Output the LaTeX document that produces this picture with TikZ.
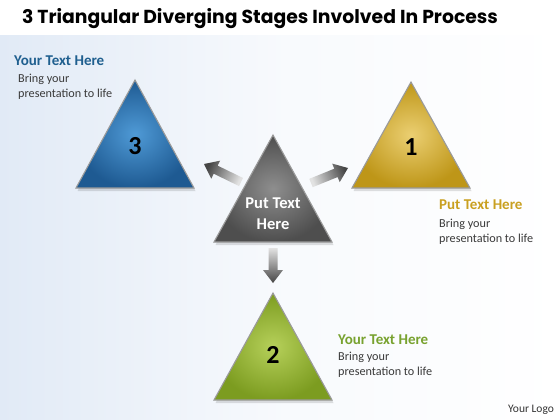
\documentclass[tikz,border=0pt]{standalone}
\usepackage{fontspec}
\setmainfont{Carlito}
\newfontfamily\titlefont{Poppins}
\usetikzlibrary{calc}
\definecolor{bgblue}{HTML}{E1EAF6}
\definecolor{headblue}{HTML}{1F5F8F}
\definecolor{headgold}{HTML}{C9A020}
\definecolor{headgreen}{HTML}{78A22F}
\definecolor{bodygray}{HTML}{3A3A3A}
\definecolor{bluein}{HTML}{4F9AD6}
\definecolor{blueout}{HTML}{1E5A92}
\definecolor{goldin}{HTML}{EBCF72}
\definecolor{goldout}{HTML}{BE9618}
\definecolor{greenin}{HTML}{B6D05A}
\definecolor{greenout}{HTML}{7C9C20}
\definecolor{grayin}{HTML}{8E8E8E}
\definecolor{grayout}{HTML}{4E4E4E}
\definecolor{rim}{HTML}{9A9A9A}
\definecolor{arrowdark}{HTML}{454545}
\definecolor{arrowlight}{HTML}{E2E2E2}
\newcommand\fanarrow[2]{%
  \coordinate (#1h) at ($(#1p)!13pt!(#1t)$);
  \shade[top color=arrowdark, bottom color=arrowlight, shading angle=#2]
    ($(#1t)!4.5pt!90:(#1p)$) -- ($(#1h)!4.5pt!-90:(#1t)$) -- ($(#1h)!10pt!-90:(#1t)$)
    -- (#1p) -- ($(#1h)!10pt!90:(#1t)$) -- ($(#1h)!4.5pt!90:(#1t)$)
    -- ($(#1t)!4.5pt!-90:(#1p)$) -- cycle;}
\tikzset{
  tri/.style={line width=1.1pt, draw=rim, line join=miter},
  shadowtri/.style={fill=black, opacity=0.12},
  num/.style={font=\bfseries\fontsize{26}{26}\selectfont, text=black},
  heading/.style={anchor=base west, font=\bfseries\fontsize{15}{15}\selectfont, inner sep=0pt},
  body/.style={anchor=base west, font=\fontsize{12.2}{12.2}\selectfont, text=bodygray, inner sep=0pt},
}
\begin{document}
\begin{tikzpicture}[x=1pt,y=-1pt]
\useasboundingbox (0,0) rectangle (560,420);
\fill[white] (0,0) rectangle (560,420);
\shade[left color=bgblue, right color=white, middle color=bgblue!25] (0,36) rectangle (560,420);

% title
\node[font=\titlefont\bfseries\fontsize{18.8}{18.8}\selectfont, anchor=base, inner sep=0pt] (title) at (260,24) {3 Triangular Diverging Stages Involved In Process};

% triangle corners
\coordinate (t3a) at (135,80);  \coordinate (t3l) at (76,188);  \coordinate (t3r) at (194,188);
\coordinate (tca) at (273,135); \coordinate (tcl) at (214,242); \coordinate (tcr) at (332,242);
\coordinate (t1a) at (411,82);  \coordinate (t1l) at (352,188); \coordinate (t1r) at (470,188);
\coordinate (t2a) at (273,293); \coordinate (t2l) at (214,400); \coordinate (t2r) at (332,400);

% shadows
\foreach \t in {t3,tc,t1,t2}{
  \fill[shadowtri] ($(\t a)+(1.5,3)$) -- ($(\t l)+(1.5,3)$) -- ($(\t r)+(1.5,3)$) -- cycle;
}

% triangles
\shadedraw[tri, inner color=bluein, outer color=blueout] (t3a) -- (t3l) -- (t3r) -- cycle;
\shadedraw[tri, inner color=grayin, outer color=grayout] (tca) -- (tcl) -- (tcr) -- cycle;
\shadedraw[tri, inner color=goldin, outer color=goldout] (t1a) -- (t1l) -- (t1r) -- cycle;
\shadedraw[tri, inner color=greenin, outer color=greenout] (t2a) -- (t2l) -- (t2r) -- cycle;

% numbers
\node[num] (n3) at (135,146) {3};
\node[num] (n1) at (411,147) {1};
\node[num] (n2) at (273,355) {2};
\node[font=\bfseries\fontsize{16.5}{21}\selectfont, text=white, align=center] (ctext) at (273,214) {Put Text\\Here};

% arrows
\coordinate (aLt) at (241,182); \coordinate (aLp) at (204,164);
\coordinate (aRt) at (311,183); \coordinate (aRp) at (348,168);
\coordinate (aDt) at (273,248); \coordinate (aDp) at (273,283);
\fanarrow{aL}{64}
\fanarrow{aR}{-68}
\fanarrow{aD}{180}

% texts
\node[heading, text=headblue] (h3) at (14,65.5) {Your Text Here};
\node[body] (b3a) at (18,82) {Bring your};
\node[body] (b3b) at (18,97) {presentation to life};

\node[heading, text=headgold] (h1) at (439,209) {Put Text Here};
\node[body] (b1a) at (439,227) {Bring your};
\node[body] (b1b) at (439,242) {presentation to life};

\node[heading, text=headgreen] (h2) at (338,344.5) {Your Text Here};
\node[body] (b2a) at (338,360.5) {Bring your};
\node[body] (b2b) at (338,375.5) {presentation to life};

\node[body, text=black!80, font=\fontsize{11.5}{11.5}\selectfont] (logo) at (508,412) {Your Logo};
\end{tikzpicture}
\end{document}
